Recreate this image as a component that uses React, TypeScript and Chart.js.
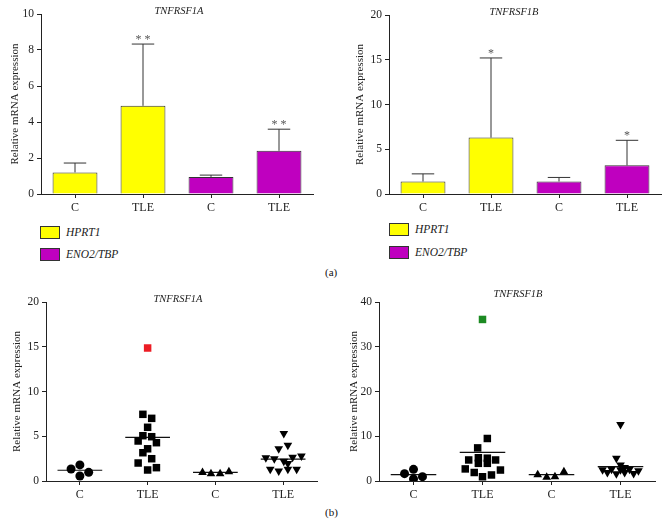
import React, { useEffect, useRef } from 'react';
import { Chart, registerables } from 'chart.js';

Chart.register(...registerables);

const SERIF = "'Liberation Serif', 'DejaVu Serif', serif";
Chart.defaults.font.family = SERIF;
Chart.defaults.color = '#222';

// ---------- shared ----------
const groupLabels = ['C', 'TLE', 'C', 'TLE'];
const seriesNames = ['HPRT1', 'ENO2/TBP'];
const seriesColors = ['#ffff00', '#bf00bf'];
const yTitle = 'Relative mRNA expression';

// ---------- (a) TNFRSF1A bars ----------
const a1Title = 'TNFRSF1A';
const a1Hprt = [1.2, 4.9, null, null];
const a1Eno = [null, null, 0.95, 2.4];
const a1Sd = [0.52, 3.43, 0.1, 1.2];
const a1Stars = ['', '**', '', '**'];
const a1Max = 10;
const a1Step = 2;

// ---------- (a) TNFRSF1B bars ----------
const a2Title = 'TNFRSF1B';
const a2Hprt = [1.4, 6.3, null, null];
const a2Eno = [null, null, 1.4, 3.2];
const a2Sd = [0.85, 8.9, 0.45, 2.8];
const a2Stars = ['', '*', '', '*'];
const a2Max = 20;
const a2Step = 5;

// ---------- (b) TNFRSF1A scatter ----------
const b1Title = 'TNFRSF1A';
const b1Max = 20;
const b1Step = 5;
const b1CVals = [1.34, 1.8, 0.97, 0.56];
const b1CJit = [-0.13, 0, 0.13, 0];
const b1TleVals = [7.45, 7.0, 6.0, 5.06, 4.95, 4.47, 4.28, 3.6, 3.16, 2.49, 2.01, 1.49, 1.23];
const b1TleJit = [-0.07, 0.06, 0, -0.07, 0.06, -0.14, 0.13, 0, -0.07, 0.06, -0.14, 0.13, 0];
const b1TleOutlier = [14.86];
const b1C2Vals = [0.95, 0.82, 0.82, 1.04];
const b1C2Jit = [-0.19, -0.065, 0.07, 0.2];
const b1Tle2Vals = [2.6, 2.5, 5.3, 3.6, 4.0, 2.2, 1.95, 2.65, 2.8, 1.3, 1.12, 1.3, 1.3];
const b1Tle2Jit = [-0.255, -0.13, 0.01, -0.065, 0.07, 0.01, 0.07, 0.14, 0.27, -0.19, -0.065, 0.07, 0.2];
const b1Means = [1.2, 4.88, 0.97, 2.45];

// ---------- (b) TNFRSF1B scatter ----------
const b2Title = 'TNFRSF1B';
const b2Max = 40;
const b2Step = 10;
const b2CVals = [1.64, 2.6, 0.97, 0.45];
const b2CJit = [-0.13, 0, 0.13, 0];
const b2TleVals = [9.5, 7.4, 4.7, 5.2, 3.95, 5.1, 3.95, 4.7, 2.7, 1.9, 0.95, 1.35, 2.45];
const b2TleJit = [0.07, -0.07, -0.2, -0.06, -0.06, 0.07, 0.07, 0.19, -0.25, -0.12, 0, 0.13, 0.26];
const b2TleOutlier = [36.1];
const b2C2Vals = [1.41, 0.82, 0.97, 2.08];
const b2C2Jit = [-0.2, -0.07, 0.05, 0.18];
const b2Tle2Vals = [12.6, 5.1, 3.6, 3.0, 2.5, 1.9, 2.6, 1.6, 2.5, 1.9, 2.6, 1.7, 2.3];
const b2Tle2Jit = [0, -0.06, 0, 0.06, -0.26, -0.19, -0.13, -0.06, 0, 0.06, 0.13, 0.19, 0.26];
const b2Means = [1.41, 6.4, 1.41, 3.2];

// ---------- helpers ----------
const AXIS = '#222';
const MEAN_HALF = 0.33;

function titlePlugin(text: string, x: number, y: number) {
  return {
    id: 'panelTitle',
    afterDraw(chart: any) {
      const ctx = chart.ctx;
      ctx.save();
      ctx.font = `italic 10.5px ${SERIF}`;
      ctx.fillStyle = '#222';
      ctx.textAlign = 'center';
      ctx.textBaseline = 'middle';
      ctx.fillText(text, x, y);
      ctx.restore();
    },
  };
}

function errorPlugin(sd: number[], stars: string[]) {
  return {
    id: 'errorBars',
    afterDatasetsDraw(chart: any) {
      const ctx = chart.ctx;
      const ys = chart.scales.y;
      ctx.save();
      ctx.strokeStyle = '#333';
      ctx.lineWidth = 1;
      chart.data.datasets.forEach((ds: any, di: number) => {
        const meta = chart.getDatasetMeta(di);
        ds.data.forEach((v: any, i: number) => {
          if (v == null) return;
          const bar = meta.data[i];
          const top = ys.getPixelForValue(v + sd[i]);
          const half = bar.width / 4;
          ctx.beginPath();
          ctx.moveTo(bar.x, bar.y);
          ctx.lineTo(bar.x, top);
          ctx.moveTo(bar.x - half, top);
          ctx.lineTo(bar.x + half, top);
          ctx.stroke();
          if (stars[i]) {
            ctx.font = `12px ${SERIF}`;
            ctx.fillStyle = '#555';
            ctx.textAlign = 'center';
            ctx.textBaseline = 'alphabetic';
            ctx.fillText(stars[i].split('').join(' '), bar.x, top - 1);
          }
        });
      });
      ctx.restore();
    },
  };
}

function axisOpts(yWidth: number, titlePad: number, max: number, step: number) {
  return {
    y: {
      min: 0,
      max,
      ticks: { stepSize: step, font: { size: 11.5 }, color: '#222', padding: 3 },
      grid: { display: true, drawOnChartArea: false, drawTicks: true, tickLength: 4, color: AXIS },
      border: { display: true, color: AXIS, width: 1 },
      title: { display: true, text: yTitle, font: { size: 11 }, color: '#222', padding: { top: titlePad, bottom: 0 } },
      afterFit: (s: any) => { s.width = yWidth; },
    },
  };
}

const xAxisCommon = {
  ticks: { font: { size: 12 }, color: '#222', padding: 3, maxRotation: 0, autoSkip: false },
  grid: { display: true, drawOnChartArea: false, drawTicks: true, tickLength: 4, color: AXIS, offset: false },
  border: { display: true, color: AXIS, width: 1 },
  afterFit: (s: any) => { s.height = 22; },
};

function makeBar(canvas: HTMLCanvasElement, p: any) {
  return new Chart(canvas, {
    type: 'bar',
    data: {
      labels: groupLabels,
      datasets: [
        { label: seriesNames[0], data: p.hprt, backgroundColor: seriesColors[0], borderColor: '#333', borderWidth: 1, barPercentage: 0.66, categoryPercentage: 1, skipNull: true },
        { label: seriesNames[1], data: p.eno, backgroundColor: seriesColors[1], borderColor: '#333', borderWidth: 1, barPercentage: 0.66, categoryPercentage: 1, skipNull: true },
      ],
    },
    options: {
      responsive: false,
      animation: false,
      devicePixelRatio: 1,
      layout: { padding: { top: p.padTop, right: p.padRight, left: 0, bottom: 0 } },
      plugins: { legend: { display: false }, tooltip: { enabled: false } },
      scales: {
        x: { ...xAxisCommon },
        ...axisOpts(p.yWidth, p.titlePad, p.max, p.step),
      },
    } as any,
    plugins: [errorPlugin(p.sd, p.stars), titlePlugin(p.title, p.titleX, p.titleY)],
  });
}

function pts(group: number, values: number[], jitter: number[]) {
  return values.map((v, i) => ({ x: group + 1 + (jitter[i] || 0), y: v }));
}

function meanLine(group: number, m: number) {
  return [
    { x: group + 1 - MEAN_HALF, y: m },
    { x: group + 1 + MEAN_HALF, y: m },
  ];
}

function makeScatter(canvas: HTMLCanvasElement, p: any) {
  const base = { pointBorderWidth: 0, showLine: false };
  const datasets: any[] = [
    { ...base, data: pts(0, p.cVals, p.cJit), pointStyle: 'circle', pointRadius: 4.5, backgroundColor: '#000' },
    { ...base, data: pts(1, p.tleVals, p.tleJit), pointStyle: 'rect', pointRadius: 5.3, backgroundColor: '#000' },
    { ...base, data: pts(1, p.outlier, [0]), pointStyle: 'rect', pointRadius: 5.3, backgroundColor: p.outlierColor },
    { ...base, data: pts(2, p.c2Vals, p.c2Jit), pointStyle: 'triangle', pointRadius: 5, backgroundColor: '#000' },
    { ...base, data: pts(3, p.tle2Vals, p.tle2Jit), pointStyle: 'triangle', pointRotation: 180, pointRadius: 5, backgroundColor: '#000' },
  ];
  p.means.forEach((m: number, g: number) => {
    datasets.push({ data: meanLine(g, m), showLine: true, pointRadius: 0, borderColor: '#111', borderWidth: 1.2, fill: false });
  });
  return new Chart(canvas, {
    type: 'scatter',
    data: { datasets },
    options: {
      responsive: false,
      animation: false,
      devicePixelRatio: 1,
      layout: { padding: { top: p.padTop, right: p.padRight, left: 0, bottom: 0 } },
      plugins: { legend: { display: false }, tooltip: { enabled: false } },
      scales: {
        x: {
          type: 'linear',
          min: 0.5,
          max: 4.5,
          ...xAxisCommon,
          ticks: { ...xAxisCommon.ticks, callback: (v: any) => groupLabels[Math.round(v) - 1] },
          afterBuildTicks: (s: any) => { s.ticks = groupLabels.map((_, i) => ({ value: i + 1 })); },
        },
        ...axisOpts(p.yWidth, p.titlePad, p.max, p.step),
      },
    } as any,
    plugins: [titlePlugin(p.title, p.titleX, p.titleY)],
  });
}

function ChartBox({ left, top, width, height, make }: any) {
  const ref = useRef<HTMLCanvasElement>(null);
  useEffect(() => {
    const chart = make(ref.current as HTMLCanvasElement);
    return () => chart.destroy();
  }, []);
  return (
    <canvas
      ref={ref}
      width={width}
      height={height}
      style={{ position: 'absolute', left, top, width, height }}
    />
  );
}

function Legend({ left, top, gap }: any) {
  return (
    <>
      {seriesNames.map((name, i) => (
        <div key={name} style={{ position: 'absolute', left, top: top + i * gap, height: 13, display: 'flex', alignItems: 'center' }}>
          <div style={{ width: 18, height: 11, background: seriesColors[i], border: '1px solid #333' }} />
          <span style={{ marginLeft: 6, fontFamily: SERIF, fontStyle: 'italic', fontSize: 11.5, color: '#222', lineHeight: '13px' }}>{name}</span>
        </div>
      ))}
    </>
  );
}

const panelLabel: any = { position: 'absolute', fontFamily: SERIF, fontSize: 11, color: '#111', lineHeight: '12px' };

export default function App() {
  return (
    <div style={{ position: 'fixed', left: 0, top: 0, width: 667, height: 525, background: '#fff', overflow: 'hidden' }}>
      <ChartBox
        left={0} top={0} width={330} height={216}
        make={(c: HTMLCanvasElement) => makeBar(c, {
          hprt: a1Hprt, eno: a1Eno, sd: a1Sd, stars: a1Stars, max: a1Max, step: a1Step,
          padTop: 14, padRight: 17, yWidth: 41, titlePad: 8.5,
          title: a1Title, titleX: 179, titleY: 11,
        })}
      />
      <ChartBox
        left={335} top={0} width={332} height={216}
        make={(c: HTMLCanvasElement) => makeBar(c, {
          hprt: a2Hprt, eno: a2Eno, sd: a2Sd, stars: a2Stars, max: a2Max, step: a2Step,
          padTop: 15, padRight: 6, yWidth: 54, titlePad: 19,
          title: a2Title, titleX: 179, titleY: 12,
        })}
      />
      <Legend left={40} top={226} gap={22} />
      <Legend left={389} top={223} gap={23} />
      <div style={{ ...panelLabel, left: 325, top: 266 }}>(a)</div>
      <ChartBox
        left={0} top={285} width={330} height={218}
        make={(c: HTMLCanvasElement) => makeScatter(c, {
          cVals: b1CVals, cJit: b1CJit, tleVals: b1TleVals, tleJit: b1TleJit,
          outlier: b1TleOutlier, outlierColor: '#ec1c24',
          c2Vals: b1C2Vals, c2Jit: b1C2Jit, tle2Vals: b1Tle2Vals, tle2Jit: b1Tle2Jit,
          means: b1Means, max: b1Max, step: b1Step,
          padTop: 17, padRight: 13, yWidth: 46, titlePad: 11,
          title: b1Title, titleX: 178, titleY: 14,
        })}
      />
      <ChartBox
        left={333} top={285} width={334} height={218}
        make={(c: HTMLCanvasElement) => makeScatter(c, {
          cVals: b2CVals, cJit: b2CJit, tleVals: b2TleVals, tleJit: b2TleJit,
          outlier: b2TleOutlier, outlierColor: '#1c8a22',
          c2Vals: b2C2Vals, c2Jit: b2C2Jit, tle2Vals: b2Tle2Vals, tle2Jit: b2Tle2Jit,
          means: b2Means, max: b2Max, step: b2Step,
          padTop: 17, padRight: 12, yWidth: 46, titlePad: 15,
          title: b2Title, titleX: 185, titleY: 9,
        })}
      />
      <div style={{ ...panelLabel, left: 325, top: 506 }}>(b)</div>
    </div>
  );
}
